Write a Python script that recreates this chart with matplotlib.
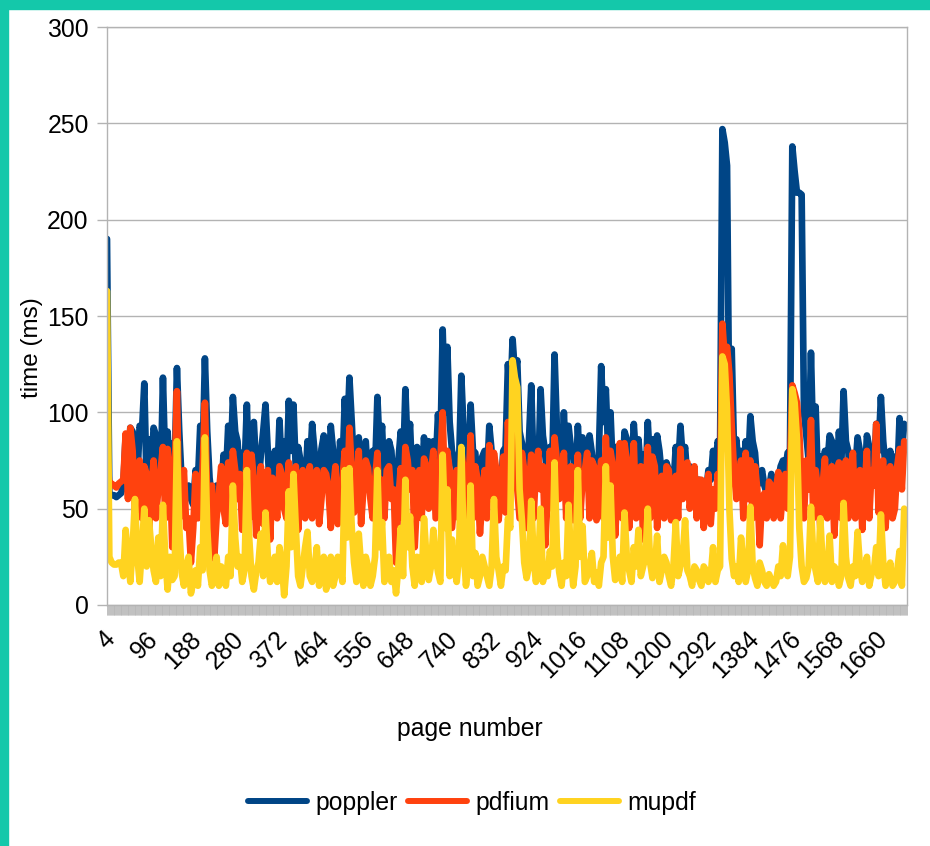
import numpy as np
import matplotlib
matplotlib.use("Agg")
import matplotlib.pyplot as plt
from matplotlib.patches import Rectangle
from matplotlib.transforms import ScaledTranslation

plt.rcParams['font.family'] = ['Liberation Sans', 'DejaVu Sans']

# pages: samples on pages 4, 14, 24, ... and the ones in between (9, 19, ...)
pages_a = np.arange(4, 1721, 10)
pages_b = np.arange(9, 1715, 10)
tick_pages = list(range(4, 1661, 92))

poppler_a = [190, 57, 56, 58, 88, 92, 80, 93, 115, 86,
             92, 75, 118, 90, 84, 123, 65, 60, 55, 70,
             93, 128, 66, 60, 53, 78, 93, 108, 85, 79,
             104, 88, 71, 78, 104, 55, 80, 96, 85, 106,
             104, 82, 62, 85, 94, 70, 81, 74, 93, 72,
             85, 107, 118, 70, 87, 75, 64, 80, 108, 93,
             70, 80, 66, 90, 112, 94, 72, 72, 87, 85,
             85, 99, 143, 134, 80, 68, 119, 80, 104, 79,
             67, 80, 93, 75, 70, 80, 125, 138, 127, 84,
             70, 114, 85, 112, 79, 82, 130, 80, 100, 93,
             78, 93, 87, 79, 79, 70, 124, 112, 100, 82,
             80, 90, 78, 94, 86, 78, 95, 86, 88, 67,
             74, 60, 82, 93, 82, 72, 68, 65, 62, 70,
             80, 85, 247, 228, 133, 86, 80, 85, 98, 79,
             65, 62, 60, 62, 65, 75, 79, 238, 214, 213,
             88, 131, 103, 77, 80, 88, 75, 90, 111, 80,
             77, 87, 70, 88, 75, 94, 108, 72, 80, 77,
             97, 94]
poppler_b = [57, 57, 57, 62, 70, 90, 65, 90, 62, 70,
             88, 62, 72, 65, 70, 90, 58, 62, 52, 64,
             75, 90, 55, 62, 58, 66, 70, 90, 65, 70,
             65, 95, 62, 90, 80, 60, 65, 68, 65, 80,
             70, 75, 58, 70, 80, 62, 88, 62, 80, 60,
             70, 85, 95, 60, 65, 85, 58, 70, 80, 62,
             85, 60, 75, 70, 80, 63, 82, 62, 70, 65,
             72, 80, 100, 95, 76, 72, 90, 65, 80, 62,
             77, 65, 80, 64, 60, 82, 105, 120, 90, 62,
             85, 70, 66, 88, 62, 72, 92, 65, 70, 82,
             60, 70, 66, 88, 65, 78, 95, 80, 70, 68,
             60, 86, 68, 75, 70, 62, 72, 66, 80, 60,
             70, 62, 70, 76, 65, 55, 60, 56, 58, 65,
             70, 80, 240, 90, 80, 70, 65, 70, 85, 62,
             70, 58, 68, 58, 72, 70, 80, 225, 214, 100,
             75, 80, 65, 70, 72, 85, 65, 72, 85, 62,
             70, 80, 62, 82, 66, 80, 85, 62, 72, 65,
             80]

pdfium_a = [80, 63, 61, 64, 89, 92, 48, 75, 72, 37,
            75, 60, 82, 81, 30, 111, 56, 40, 22, 68,
            62, 105, 51, 24, 58, 50, 74, 80, 55, 39,
            79, 78, 36, 72, 68, 34, 60, 72, 50, 74,
            66, 39, 70, 62, 45, 70, 55, 68, 40, 72,
            58, 80, 92, 48, 80, 60, 71, 45, 79, 65,
            70, 55, 22, 71, 82, 60, 30, 70, 76, 50,
            80, 60, 100, 80, 40, 70, 80, 45, 88, 72,
            37, 70, 83, 79, 44, 77, 95, 90, 60, 79,
            40, 78, 70, 60, 31, 80, 87, 55, 79, 70,
            44, 78, 65, 79, 75, 44, 75, 87, 80, 36,
            84, 84, 40, 84, 70, 34, 82, 77, 40, 67,
            72, 44, 67, 81, 72, 50, 72, 65, 40, 68,
            60, 68, 146, 134, 93, 55, 75, 79, 75, 72,
            31, 58, 64, 45, 69, 60, 50, 114, 105, 60,
            75, 96, 70, 40, 76, 60, 36, 74, 70, 45,
            79, 65, 39, 80, 70, 94, 72, 40, 72, 50,
            81, 85]
pdfium_b = [62, 62, 63, 65, 55, 80, 70, 45, 68, 60,
            45, 70, 45, 70, 65, 45, 70, 45, 40, 45,
            70, 55, 62, 45, 72, 42, 55, 70, 68, 55,
            45, 65, 55, 42, 70, 66, 45, 68, 45, 45,
            72, 60, 45, 72, 62, 42, 70, 60, 60, 42,
            65, 55, 70, 62, 42, 75, 55, 65, 45, 45,
            72, 60, 55, 45, 75, 70, 55, 45, 72, 68,
            45, 75, 55, 70, 55, 45, 70, 60, 45, 65,
            55, 45, 55, 70, 60, 48, 70, 75, 45, 70,
            60, 45, 80, 72, 55, 50, 75, 62, 45, 72,
            60, 45, 70, 45, 72, 60, 45, 60, 72, 60,
            45, 75, 60, 45, 72, 60, 45, 72, 60, 45,
            70, 62, 45, 55, 74, 60, 45, 65, 58, 42,
            50, 60, 128, 120, 70, 65, 45, 55, 45, 60,
            55, 45, 62, 60, 45, 68, 70, 110, 90, 45,
            60, 45, 60, 62, 45, 72, 60, 45, 75, 65,
            45, 70, 60, 45, 62, 48, 75, 62, 45, 72,
            60]

mupdf_a = [163, 22, 21, 22, 39, 12, 55, 12, 50, 44,
           18, 35, 52, 8, 13, 85, 17, 20, 6, 18,
           30, 87, 18, 15, 10, 17, 25, 62, 20, 12,
           70, 15, 17, 37, 48, 12, 25, 30, 5, 59,
           68, 15, 20, 38, 12, 30, 18, 8, 25, 15,
           20, 70, 71, 22, 37, 10, 20, 15, 70, 43,
           20, 12, 6, 40, 65, 46, 10, 20, 45, 13,
           39, 17, 78, 60, 34, 12, 82, 10, 62, 27,
           15, 20, 10, 55, 18, 20, 45, 127, 113, 44,
           14, 54, 12, 50, 20, 28, 74, 17, 22, 52,
           10, 70, 41, 15, 27, 17, 22, 72, 62, 13,
           25, 48, 18, 30, 39, 20, 50, 14, 36, 18,
           22, 10, 43, 20, 44, 15, 20, 13, 20, 12,
           30, 18, 129, 101, 24, 20, 35, 12, 51, 14,
           22, 12, 16, 10, 20, 31, 15, 112, 86, 20,
           14, 51, 18, 45, 12, 36, 20, 10, 53, 14,
           20, 38, 12, 25, 16, 30, 47, 10, 22, 12,
           28, 50]
mupdf_b = [25, 21, 22, 15, 25, 30, 25, 30, 20, 30,
           12, 15, 25, 25, 15, 40, 10, 25, 12, 10,
           18, 40, 10, 25, 20, 10, 15, 35, 25, 18,
           35, 8, 22, 15, 25, 18, 12, 22, 20, 30,
           40, 10, 30, 15, 18, 10, 25, 15, 10, 25,
           12, 35, 40, 12, 20, 25, 10, 25, 30, 12,
           25, 18, 20, 15, 30, 20, 25, 12, 25, 20,
           25, 12, 40, 15, 20, 25, 30, 20, 15, 10,
           25, 15, 20, 25, 10, 18, 40, 118, 60, 22,
           20, 25, 20, 12, 15, 20, 30, 10, 15, 25,
           20, 25, 12, 20, 12, 10, 25, 35, 25, 15,
           12, 25, 12, 20, 15, 25, 22, 18, 12, 25,
           15, 20, 15, 25, 18, 10, 18, 10, 18, 15,
           12, 20, 125, 50, 15, 12, 22, 18, 20, 10,
           18, 10, 13, 12, 15, 18, 25, 105, 40, 12,
           20, 25, 12, 22, 15, 12, 18, 15, 25, 10,
           15, 20, 18, 10, 18, 15, 22, 15, 10, 18,
           10]

series = [("poppler", poppler_a, poppler_b, "#004586"),
          ("pdfium", pdfium_a, pdfium_b, "#ff420e"),
          ("mupdf", mupdf_a, mupdf_b, "#ffd320")]

W, H = 930, 846
fig = plt.figure(figsize=(W / 100, H / 100), dpi=100)
fig.patch.set_facecolor("white")

# teal frame on the top and left edge
teal = "#14c8aa"
fig.patches.append(Rectangle((0, 1 - 9 / H), 1, 9 / H, transform=fig.transFigure,
                             color=teal, zorder=0))
fig.patches.append(Rectangle((0, 0), 8 / W, 1, transform=fig.transFigure,
                             color=teal, zorder=0))

ax = fig.add_axes([107 / W, 1 - 605 / H, 800 / W, 578 / H])
grey = "#b3b3b3"

for name, va, vb, col in series:
    x = np.concatenate([pages_a, pages_b])
    y = np.concatenate([va, vb])
    order = np.argsort(x)
    ax.plot(x[order], y[order], color=col, lw=4.8, label=name,
            solid_joinstyle="round", solid_capstyle="round")

ax.set_xlim(4, 1720)
ax.set_ylim(0, 300)
ax.set_yticks(range(0, 301, 50))
ax.yaxis.grid(True, color=grey, lw=1)
ax.set_axisbelow(True)
for sp in ax.spines.values():
    sp.set_color(grey)
    sp.set_linewidth(1)

ax.tick_params(axis="y", length=7.2, width=1, color=grey, labelsize=17.8, pad=6)
ax.set_xticks(tick_pages)
ax.set_xticks(np.arange(4, 1721, 1), minor=True)
ax.tick_params(axis="x", which="both", length=7.2, width=0.4, color=grey)
ax.set_xticklabels([str(p) for p in tick_pages], rotation=45, ha="right",
                   va="top", rotation_mode="anchor", fontsize=17.8)
offset = ScaledTranslation(-4 / 100, -7 / 100, fig.dpi_scale_trans)
for lab in ax.get_xticklabels():
    lab.set_transform(lab.get_transform() + offset)

fig.text(470 / W, 1 - 729 / H, "page number", ha="center", va="center", fontsize=17.8)
fig.text(32 / W, 1 - 348 / H, "time (ms)", ha="center", va="center",
         rotation=90, fontsize=17.5)

leg = fig.legend(loc="center", bbox_to_anchor=(472 / W, 1 - 803 / H), ncol=3,
                 frameon=False, fontsize=17.8, handlelength=2.4, handletextpad=0.35,
                 columnspacing=0.4)
for line in leg.get_lines():
    line.set_linewidth(4.3)

fig.savefig("out.png", dpi=100)
